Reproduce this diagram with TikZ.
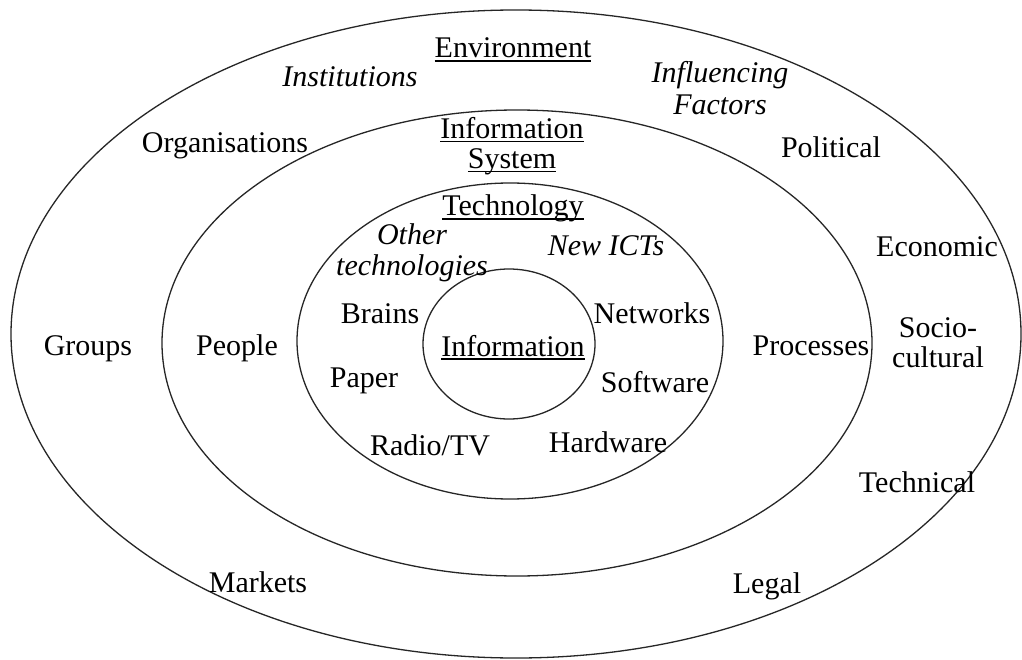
\documentclass[tikz,border=0pt]{standalone}
\usepackage{fontspec}
\setmainfont{Liberation Serif}
\newcommand\myul[1]{\setbox0\hbox{#1}\dimen0=\wd0\box0\hspace{-\dimen0}\rule[-3.6pt]{\dimen0}{1.2pt}}
\begin{document}
\begin{tikzpicture}[x=1pt,y=-1pt,
  ring/.style={draw=black!85,line width=1.3pt},
  lbl/.style={inner sep=0pt,anchor=base,font=\fontsize{30}{31}\selectfont},
  ilbl/.style={lbl,font=\fontsize{30}{31}\selectfont\itshape},
  mlbl/.style={inner sep=0pt,anchor=center,align=center,font=\fontsize{30}{31}\selectfont},
  imlbl/.style={mlbl,font=\fontsize{30}{31}\selectfont\itshape}]
\useasboundingbox[fill=white] (0,0) rectangle (1022,660);
% rings
\draw[ring] (516,334) ellipse [x radius=505pt, y radius=324pt];
\draw[ring] (517,343) ellipse [x radius=355pt, y radius=233pt];
\draw[ring] (510,341) ellipse [x radius=213pt, y radius=158pt];
\draw[ring] (509,344) ellipse [x radius=86pt, y radius=75pt];
% outer ring
\node[lbl] (env) at (513,58) {\myul{Environment}};
\node[ilbl] (inst) at (350,87) {Institutions};
\node[imlbl,font=\fontsize{30}{32}\selectfont\itshape] (infl) at (720,88) {Influencing\\Factors};
\node[lbl] (org) at (225,153) {Organisations};
\node[lbl] (pol) at (831,158) {Political};
\node[lbl] (eco) at (937,257) {Economic};
\node[mlbl,font=\fontsize{30}{30}\selectfont] (soc) at (938,343) {Socio-\\cultural};
\node[lbl] (grp) at (88,355) {Groups};
\node[lbl] (tec) at (917,492) {Technical};
\node[lbl] (mkt) at (258,592) {Markets};
\node[lbl] (leg) at (767,593) {Legal};
% information system ring
\node[mlbl,font=\fontsize{30}{30}\selectfont] (is) at (512,146) {\myul{Information}\\\myul{System}};
\node[lbl] (ppl) at (237,355) {People};
\node[lbl] (proc) at (811,355) {Processes};
% technology ring
\node[lbl] (tech) at (513,216) {\myul{Technology}};
\node[imlbl] (oth) at (412,253) {Other\\technologies};
\node[ilbl] (ict) at (606,255) {New ICTs};
\node[lbl] (brn) at (380,323) {Brains};
\node[lbl] (net) at (652,323) {Networks};
\node[lbl] (pap) at (364,387) {Paper};
\node[lbl] (sw) at (655,392) {Software};
\node[lbl] (rad) at (430,455) {Radio/TV};
\node[lbl] (hw) at (608,452) {Hardware};
% information core
\node[lbl] (info) at (513,356) {\myul{Information}};
\end{tikzpicture}
\end{document}
